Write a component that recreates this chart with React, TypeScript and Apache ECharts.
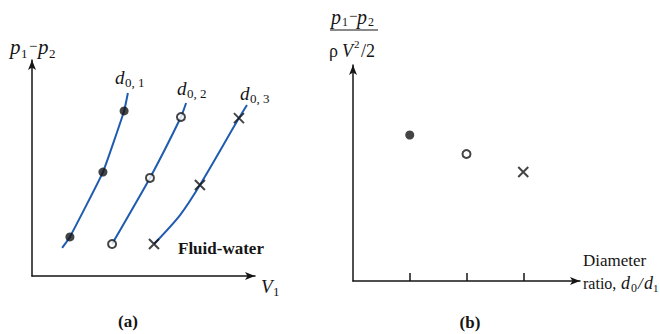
import React, { useEffect, useRef } from "react";
import * as echarts from "echarts";

// Panel (a): pressure drop vs velocity for three orifice diameters
const curveD01 = [[1.35, 1.3], [1.7, 1.81], [3.18, 4.81], [4.13, 7.64], [4.3, 8.47]];
const curveD02 = [[3.59, 1.48], [5.29, 4.54], [6.68, 7.36], [6.91, 8.01]];
const curveD03 = [[5.47, 1.48], [6.64, 2.82], [7.53, 4.21], [9.28, 7.31], [9.64, 7.92]];
const pointsD01 = [[1.7, 1.81], [3.18, 4.81], [4.13, 7.64]];
const pointsD02 = [[3.59, 1.48], [5.29, 4.54], [6.68, 7.36]];
const pointsD03 = [[5.47, 1.48], [7.53, 4.21], [9.28, 7.31]];

// Panel (b): dimensionless pressure drop vs diameter ratio
const ratioTicks = [1, 2, 3];
const coeffD01 = [[1, 6.76]];
const coeffD02 = [[2, 5.88]];
const coeffD03 = [[3, 5.05]];

const INK = "#151515";
const BLUE = "#1f5cb0";
const SERIF = "'Liberation Serif', 'DejaVu Serif', serif";
const CROSS = "path://M0,0L10,10M10,0L0,10";

const txt = (x: number, y: number, text: string, o: any = {}) => ({
  type: "text",
  x,
  y,
  silent: true,
  style: {
    text,
    fill: INK,
    fontFamily: SERIF,
    fontSize: o.size ?? 16,
    fontStyle: o.italic ? "italic" : "normal",
    fontWeight: o.bold ? "bold" : "normal",
    textAlign: o.align ?? "left",
    textVerticalAlign: "middle",
  },
});

export default function App() {
  const ref = useRef<HTMLDivElement>(null);
  useEffect(() => {
    document.body.style.margin = "0";
    if (!ref.current) return;
    const chart = echarts.init(ref.current, undefined, { renderer: "svg" });

    const axisLine = {
      show: true,
      symbol: ["none", "arrow"],
      symbolSize: [6, 10],
      lineStyle: { color: INK, width: 1.5 },
    };
    const hidden = { show: false };

    const lineSeries = (data: number[][], smooth: number) => ({
      type: "line",
      xAxisIndex: 0,
      yAxisIndex: 0,
      data,
      smooth,
      showSymbol: false,
      symbol: "none",
      lineStyle: { color: BLUE, width: 2 },
      z: 2,
    });
    const filled = { symbol: "circle", symbolSize: 9, itemStyle: { color: INK } };
    const open = {
      symbol: "circle",
      symbolSize: 8,
      itemStyle: { color: "#fff", borderColor: INK, borderWidth: 2 },
    };
    const cross = {
      symbol: CROSS,
      symbolSize: 10,
      itemStyle: { color: "none", borderColor: INK, borderWidth: 2 },
    };
    const scat = (data: number[][], style: any, idx: number) => ({
      type: "scatter",
      xAxisIndex: idx,
      yAxisIndex: idx,
      data,
      z: 5,
      ...style,
    });

    chart.setOption({
      animation: false,
      grid: [
        { left: 32, top: 60, width: 223, height: 216 },
        { left: 353, top: 65, width: 227, height: 216 },
      ],
      xAxis: [
        {
          gridIndex: 0,
          type: "value",
          min: 0,
          max: 10,
          axisLine,
          axisTick: hidden,
          axisLabel: hidden,
          splitLine: hidden,
        },
        {
          gridIndex: 1,
          type: "value",
          min: 0,
          max: 4,
          interval: 1,
          axisLine,
          axisTick: {
            show: true,
            inside: true,
            length: 8,
            customValues: ratioTicks,
            lineStyle: { color: INK, width: 1.5 },
          },
          axisLabel: hidden,
          splitLine: hidden,
        },
      ],
      yAxis: [
        {
          gridIndex: 0,
          type: "value",
          min: 0,
          max: 10,
          axisLine,
          axisTick: hidden,
          axisLabel: hidden,
          splitLine: hidden,
        },
        {
          gridIndex: 1,
          type: "value",
          min: 0,
          max: 10,
          axisLine,
          axisTick: hidden,
          axisLabel: hidden,
          splitLine: hidden,
        },
      ],
      series: [
        lineSeries(curveD01, 0.12),
        lineSeries(curveD02, 0.15),
        lineSeries(curveD03, 0.3),
        scat(pointsD01, filled, 0),
        scat(pointsD02, open, 0),
        scat(pointsD03, cross, 0),
        scat(coeffD01, filled, 1),
        scat(coeffD02, open, 1),
        scat(coeffD03, cross, 1),
      ],
      graphic: [
        // panel (a) y label: p1 − p2
        txt(10, 47, "p", { italic: true, size: 21 }),
        txt(21, 53, "1", { size: 13 }),
        txt(29, 46, "−", { size: 15 }),
        txt(38, 47, "p", { italic: true, size: 21 }),
        txt(49, 53, "2", { size: 13 }),
        // V1
        txt(261, 286, "V", { italic: true, size: 19 }),
        txt(273, 291, "1", { size: 13 }),
        // curve labels
        txt(115, 77, "d", { italic: true, size: 19 }),
        txt(125, 82, "0, 1", { size: 13 }),
        txt(177, 88, "d", { italic: true, size: 19 }),
        txt(187, 93, "0, 2", { size: 13 }),
        txt(240, 93, "d", { italic: true, size: 19 }),
        txt(250, 98, "0, 3", { size: 13 }),
        txt(178, 248, "Fluid-water", { bold: true, size: 17 }),
        txt(128, 321, "(a)", { bold: true, size: 17, align: "center" }),
        // panel (b) y label fraction
        txt(331, 17, "p", { italic: true, size: 20 }),
        txt(342, 22, "1", { size: 12 }),
        txt(349, 16, "−", { size: 15 }),
        txt(357, 17, "p", { italic: true, size: 20 }),
        txt(368, 22, "2", { size: 12 }),
        {
          type: "line",
          silent: true,
          shape: { x1: 330, y1: 30, x2: 378, y2: 30 },
          style: { stroke: INK, lineWidth: 1.2 },
        },
        txt(329, 51, "ρ", { size: 18 }),
        txt(342, 51, "V", { italic: true, size: 18 }),
        txt(354, 44, "2", { size: 11 }),
        txt(361, 51, "/2", { size: 18 }),
        txt(583, 260, "Diameter", { size: 17 }),
        txt(583, 283, "ratio,", { size: 16 }),
        txt(621, 283, "d", { italic: true, size: 18 }),
        txt(631, 288, "0", { size: 12 }),
        txt(638, 283, "/", { italic: true, size: 17 }),
        txt(644, 283, "d", { italic: true, size: 18 }),
        txt(653, 288, "1", { size: 11 }),
        txt(470, 322, "(b)", { bold: true, size: 17, align: "center" }),
      ],
    });
    return () => chart.dispose();
  }, []);
  return <div ref={ref} style={{ width: 660, height: 334 }} />;
}
